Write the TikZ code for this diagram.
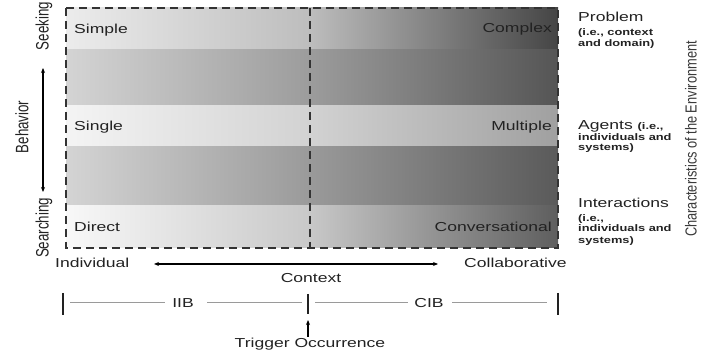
\documentclass[tikz,border=0pt]{standalone}
\usepackage{fontspec}
\setmainfont{Liberation Sans}[FakeStretch=1.35]
\newfontfamily\narrowfont{Liberation Sans}[FakeStretch=0.74]
\newfontfamily\envfont{Liberation Sans}[FakeStretch=0.8]
\usetikzlibrary{arrows.meta}

\definecolor{ink}{HTML}{222222}
\definecolor{envink}{HTML}{3A3A3A}
\definecolor{boxline}{HTML}{333333}
\definecolor{thin}{HTML}{9A9A9A}
\definecolor{bAl}{HTML}{ECECEC}\definecolor{bAm}{HTML}{BDBDBD}\definecolor{bAr}{HTML}{454545}
\definecolor{bBl}{HTML}{D4D4D4}\definecolor{bBm}{HTML}{9C9C9C}\definecolor{bBr}{HTML}{555555}
\definecolor{bCl}{HTML}{F4F4F4}\definecolor{bCm}{HTML}{D2D2D2}\definecolor{bCr}{HTML}{A0A0A0}
\definecolor{bDl}{HTML}{D4D4D4}\definecolor{bDm}{HTML}{9A9A9A}\definecolor{bDr}{HTML}{5A5A5A}
\definecolor{bEl}{HTML}{F8F8F8}\definecolor{bEm}{HTML}{C8C8C8}\definecolor{bEr}{HTML}{5E5E5E}

\begin{document}
\begin{tikzpicture}[x=1pt,y=-1pt,
  lab/.style={inner sep=0pt, text=ink, font=\fontsize{13}{13}\selectfont},
  small/.style={inner sep=0pt, text=ink, font=\fontsize{9.5}{9.5}\selectfont\bfseries},
  vlab/.style={inner sep=0pt, text=ink, font=\narrowfont\fontsize{18}{18}\selectfont, rotate=90},
  envlab/.style={inner sep=0pt, text=envink, font=\envfont\fontsize{16}{16}\selectfont, rotate=90},
  dashbox/.style={draw=boxline, line width=2pt, dash pattern=on 8pt off 5pt},
  axisarrow/.style={draw=black, line width=1.1pt, {Stealth[length=5pt,width=4pt]}-{Stealth[length=5pt,width=4pt]}},
  bar/.style={draw=ink, line width=2.5pt},
  thinline/.style={draw=thin, line width=1pt},
]
\useasboundingbox (0,0) rectangle (701,352);

% shaded bands
\foreach \ya/\yb/\b in {8/50/A, 50/106/B, 106/147/C, 147/206/D, 206/248/E}{
  \shade[left color=b\b l, right color=b\b m] (66,\ya) rectangle (310,\yb);
  \shade[left color=b\b m, right color=b\b r] (310,\ya) rectangle (558,\yb);
}

% dashed frame and divider
\draw[dashbox] (66,8) rectangle (558,248);
\draw[dashbox] (310,8) -- (310,248);

% labels inside the box
\node[lab, anchor=base west] (simple) at (74,33.5) {Simple};
\node[lab, anchor=base west] (single) at (74,130.5) {Single};
\node[lab, anchor=base west] (direct) at (74,231.5) {Direct};
\node[lab, anchor=base east] (complex) at (552,32.5) {Complex};
\node[lab, anchor=base east] (multiple) at (552,130.5) {Multiple};
\node[lab, anchor=base east] (conv) at (552,231.5) {Conversational};

% right labels
\node[lab, anchor=base west] (problem) at (578,22) {Problem};
\node[small, anchor=base west] (prob1) at (578,35.5) {(i.e., context};
\node[small, anchor=base west] (prob2) at (578,46.5) {and domain)};
\node[lab, anchor=base west] (agents) at (578,130) {Agents {\fontsize{9.5}{9.5}\selectfont\bfseries(i.e.,}};
\node[small, anchor=base west] (ag1) at (578,140.5) {individuals and};
\node[small, anchor=base west] (ag2) at (578,150.5) {systems)};
\node[lab, anchor=base west] (inter) at (578,208) {Interactions};
\node[small, anchor=base west] (in1) at (578,221.5) {(i.e.,};
\node[small, anchor=base west] (in2) at (578,231.5) {individuals and};
\node[small, anchor=base west] (in3) at (578,243.5) {systems)};

% rotated labels
\node[vlab] (seeking) at (44,26) {Seeking};
\node[vlab] (behavior) at (22,127) {Behavior};
\node[vlab] (searching) at (44,228) {Searching};
\node[envlab] (env) at (691,139) {Characteristics of the Environment};
\coordinate (bTop) at (43,68);
\coordinate (bBot) at (43,192);
\draw[axisarrow] (bTop) -- (bBot);

% context axis
\node[lab, anchor=base west] (indiv) at (55,267.5) {Individual};
\node[lab, anchor=base west] (collab) at (464,267.5) {Collaborative};
\node[lab, anchor=base] (context) at (311,282.5) {Context};
\coordinate (cL) at (154,264);
\coordinate (cR) at (438,264);
\draw[axisarrow] (cL) -- (cR);

% timeline
\coordinate (t1a) at (63,293); \coordinate (t1b) at (63,315);
\coordinate (t2a) at (308,294); \coordinate (t2b) at (308,314);
\coordinate (t3a) at (558,293); \coordinate (t3b) at (558,315);
\draw[bar] (t1a) -- (t1b);
\draw[bar] (t2a) -- (t2b);
\draw[bar] (t3a) -- (t3b);
\node[lab, anchor=base] (iib) at (183,307.5) {IIB};
\node[lab, anchor=base] (cib) at (429,307.5) {CIB};
\coordinate (l1a) at (70,303); \coordinate (l1b) at (165,303);
\coordinate (l2a) at (207,303); \coordinate (l2b) at (302,303);
\coordinate (l3a) at (315,303); \coordinate (l3b) at (408,303);
\coordinate (l4a) at (452,303); \coordinate (l4b) at (547,303);
\draw[thinline] (l1a) -- (l1b);
\draw[thinline] (l2a) -- (l2b);
\draw[thinline] (l3a) -- (l3b);
\draw[thinline] (l4a) -- (l4b);

\node[lab, anchor=base] (trigger) at (310,347.5) {Trigger Occurrence};
\coordinate (trTop) at (308,320);
\draw[draw=black, line width=1.1pt, -{Stealth[length=5pt,width=4pt]}] (trigger.north -| trTop) ++(0,-1) -- (trTop);
\end{tikzpicture}
\end{document}
